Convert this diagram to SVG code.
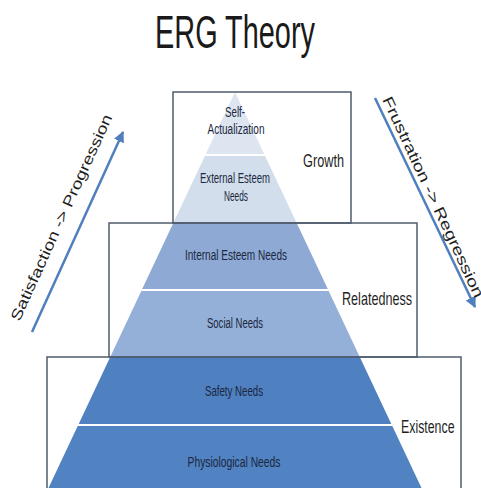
<svg xmlns="http://www.w3.org/2000/svg" width="481" height="489" viewBox="0 0 481 489">
  <style>
    text { font-family: "Liberation Sans", Arial, sans-serif; }
    .title { font-size: 46px; fill: #1a1a1a; }
    .tier { fill: #ffffff; stroke: none; }
    .frame { fill: none; stroke: #4f5b6c; stroke-width: 1.5; }
    .tierlabel { font-size: 19px; fill: #1f1f1f; }
    .need { font-size: 14px; fill: #1b2740; text-anchor: middle; }
    .flow { stroke: #4f7fbd; stroke-width: 2.5; fill: none; }
    .flowlabel { font-size: 15px; fill: #1f1f1f; text-anchor: middle; }
  </style>
  <defs>
    <marker id="arrowhead" viewBox="0 0 10 10" refX="9" refY="5" markerWidth="11" markerHeight="11" markerUnits="userSpaceOnUse" orient="auto">
      <path d="M0,0 L10,5 L0,10 z" fill="#4f7fbd"/>
    </marker>
  </defs>

  <rect width="481" height="489" fill="#ffffff"/>

  <text class="title" x="235" y="48" text-anchor="middle" textLength="160" lengthAdjust="spacingAndGlyphs">ERG Theory</text>

  <!-- tier backgrounds -->
  <rect class="tier" x="173" y="92" width="178" height="131"/>
  <rect class="tier" x="109" y="223" width="308" height="134"/>
  <rect class="tier" x="47" y="357" width="414" height="132"/>

  <!-- pyramid of needs -->
  <g id="self-actualization">
    <polygon points="235,92 205.8,154 264.2,154" fill="#dde5f0"/>
    <text class="need" x="235" y="117" textLength="20" lengthAdjust="spacingAndGlyphs">Self-</text>
    <text class="need" x="236" y="134" textLength="57" lengthAdjust="spacingAndGlyphs">Actualization</text>
  </g>
  <g id="external-esteem">
    <polygon points="204.9,156 265.1,156 296.7,223 173.3,223" fill="#d3deec"/>
    <text class="need" x="235" y="183" textLength="70" lengthAdjust="spacingAndGlyphs">External Esteem</text>
    <text class="need" x="236" y="201" textLength="24" lengthAdjust="spacingAndGlyphs">Needs</text>
  </g>
  <g id="internal-esteem">
    <polygon points="173.3,223 296.7,223 327.8,289 142.2,289" fill="#8eaad4"/>
    <text class="need" x="236" y="260" textLength="102" lengthAdjust="spacingAndGlyphs">Internal Esteem Needs</text>
  </g>
  <g id="social">
    <polygon points="141.3,291 328.7,291 359.8,357 110.2,357" fill="#94b0d8"/>
    <text class="need" x="235" y="328" textLength="56" lengthAdjust="spacingAndGlyphs">Social Needs</text>
  </g>
  <g id="safety">
    <polygon points="110.2,357 359.8,357 391.3,424 78.7,424" fill="#4f80c0"/>
    <text class="need" x="234" y="396" textLength="58" lengthAdjust="spacingAndGlyphs">Safety Needs</text>
  </g>
  <g id="physiological">
    <polygon points="77.7,426 392.3,426 421.5,488 48.5,488" fill="#5182c1"/>
    <text class="need" x="234" y="467" textLength="93" lengthAdjust="spacingAndGlyphs">Physiological Needs</text>
  </g>

  <!-- tier frames and names -->
  <g id="growth">
    <rect class="frame" x="173" y="92" width="178" height="131"/>
    <text class="tierlabel" x="303" y="167" textLength="41" lengthAdjust="spacingAndGlyphs">Growth</text>
  </g>
  <g id="relatedness">
    <rect class="frame" x="109" y="223" width="308" height="134"/>
    <text class="tierlabel" x="342" y="305" textLength="70" lengthAdjust="spacingAndGlyphs">Relatedness</text>
  </g>
  <g id="existence">
    <path class="frame" d="M47,488 V357 H461 V488"/>
    <text class="tierlabel" transform="translate(401,433) scale(0.65,1)">Existence</text>
  </g>

  <!-- direction arrows -->
  <g id="connectors">
    <line class="flow" x1="32" y1="332" x2="123" y2="132" marker-end="url(#arrowhead)"/>
    <line class="flow" x1="375" y1="98" x2="475" y2="307" marker-end="url(#arrowhead)"/>
    <text class="flowlabel" transform="translate(61.5,217.5) rotate(-65.5)" x="0" y="5" textLength="225" lengthAdjust="spacingAndGlyphs">Satisfaction -&gt; Progression</text>
    <text class="flowlabel" transform="translate(433,197) rotate(65)" x="0" y="5" textLength="220" lengthAdjust="spacingAndGlyphs">Frustration -&gt; Regression</text>
  </g>
</svg>
